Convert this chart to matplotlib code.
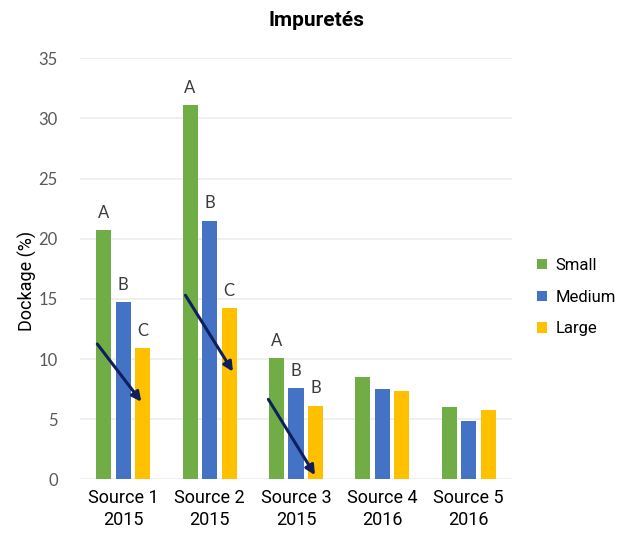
import matplotlib
matplotlib.use("Agg")
import matplotlib.pyplot as plt
import numpy as np

categories = ["Source 1\n2015", "Source 2\n2015", "Source 3\n2015", "Source 4\n2016", "Source 5\n2016"]
series_names = ["Small", "Medium", "Large"]
small = [20.7, 31.1, 10.05, 8.5, 6.0]
medium = [14.7, 21.5, 7.55, 7.5, 4.85]
large = [10.9, 14.2, 6.1, 7.35, 5.75]
letters_small = ["A", "A", "A", "", ""]
letters_medium = ["B", "B", "B", "", ""]
letters_large = ["C", "C", "B", "", ""]
yticks = [0, 5, 10, 15, 20, 25, 30, 35]
# trend arrows per group: (x start, y start, x end, y end) in data units
arrows = [(-0.30, 11.25, 0.21, 6.45),
          (0.72, 15.3, 1.27, 8.95),
          (1.68, 6.65, 2.22, 0.35)]

colors = ["#70ad47", "#4472c4", "#ffc000"]
tick_grey = "#595959"

fig = plt.figure(figsize=(6.26, 5.33), dpi=100)
ax = fig.add_axes([80 / 626, 1 - 479.3 / 533, 432 / 626, 421 / 533])

x = np.arange(len(categories))
width = 0.174
step = 0.226
series = [small, medium, large]
letters = [letters_small, letters_medium, letters_large]
for i, (vals, labs) in enumerate(zip(series, letters)):
    pos = x + (i - 1) * step
    ax.bar(pos, vals, width=width, color=colors[i], label=series_names[i], zorder=3)
    for px, v, t in zip(pos, vals, labs):
        if t:
            ax.text(px, v + 0.8, t, ha="center", va="bottom", fontsize=12,
                    family="Lato", color="#3a3a3a", zorder=4)

for xs, ys, xe, ye in arrows:
    ax.annotate("", xy=(xe, ye), xytext=(xs, ys),
                arrowprops=dict(arrowstyle="-|>", color="#0f1f5c", lw=2.2,
                                mutation_scale=14, shrinkA=0, shrinkB=0),
                zorder=5)

ax.set_xlim(-0.5, 4.5)
ax.set_ylim(0, 35)
ax.set_yticks(yticks)
ax.set_yticklabels([str(t) for t in yticks], family="Lato", fontsize=12, color=tick_grey)
ax.set_xticks(x)
ax.set_xticklabels(categories, family="Roboto", fontsize=13, color="black", linespacing=1.3)
ax.tick_params(axis="both", length=0)
ax.tick_params(axis="y", pad=16)
ax.tick_params(axis="x", pad=7)
ax.yaxis.grid(True, color="#ececec", lw=1.2, zorder=0)
for s in ax.spines.values():
    s.set_visible(False)

ax.set_ylabel("Dockage (%)", family="Roboto", fontsize=13, labelpad=0)
ax.yaxis.set_label_coords(-43 / 432, (479.3 - 281) / 421)
fig.text(316 / 626, 1 - 20 / 533, "Impuretés", ha="center", va="center",
         family="Roboto", fontweight="bold", fontsize=15)

leg = fig.legend(loc="upper left", bbox_to_anchor=(522 / 626, 1 - 243 / 533),
                 frameon=False, prop={"family": "Roboto", "size": 12},
                 handlelength=0.6, handleheight=0.6, handletextpad=0.5,
                 labelspacing=1.0)

fig.savefig("out.png", dpi=100)
